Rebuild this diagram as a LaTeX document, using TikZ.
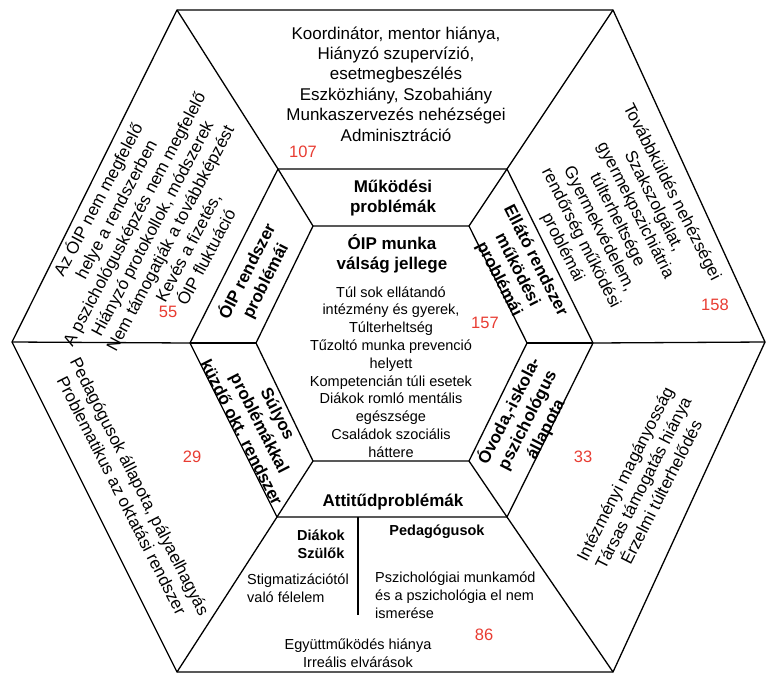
\documentclass[tikz,border=0pt]{standalone}
\usepackage{fontspec}
\setmainfont{Liberation Sans}
\definecolor{numred}{RGB}{232,60,50}
\tikzset{
  big/.style={font=\fontsize{17}{20.4}\selectfont, align=center, inner sep=0pt},
  bigb/.style={font=\fontsize{17}{20.4}\selectfont\bfseries, align=center, inner sep=0pt},
  small/.style={font=\fontsize{14.5}{17.8}\selectfont, align=center, inner sep=0pt},
  smallb/.style={font=\fontsize{14.5}{18}\selectfont\bfseries, align=center, inner sep=0pt},
  num/.style={font=\fontsize{16.5}{20}\selectfont, text=numred, inner sep=0pt},
  hexline/.style={line width=1.3pt, line join=miter, draw=black}
}
\begin{document}
\begin{tikzpicture}[x=1pt,y=-1pt]
\useasboundingbox (0,0) rectangle (767,675);
% vertices
\coordinate (O1) at (177,10);  \coordinate (O2) at (613,10);
\coordinate (O3) at (765,342); \coordinate (O4) at (613,672);
\coordinate (O5) at (177,672); \coordinate (O6) at (12,342);
\coordinate (M1) at (278,169); \coordinate (M2) at (507,169);
\coordinate (M3) at (593,343); \coordinate (M4) at (507,517);
\coordinate (M5) at (277,517); \coordinate (M6) at (190,343);
\coordinate (I1) at (313,226); \coordinate (I2) at (469,226);
\coordinate (I3) at (527,343); \coordinate (I4) at (469,461);
\coordinate (I5) at (313,461); \coordinate (I6) at (256,343);
\coordinate (D1) at (358,517); \coordinate (D2) at (358,615);
% hexagons
\draw[hexline] (O1)--(O2)--(O3)--(O4)--(O5)--(O6)--cycle;
\draw[hexline] (M1)--(M2)--(M3)--(M4)--(M5)--(M6)--cycle;
\draw[hexline] (I1)--(I2)--(I3)--(I4)--(I5)--(I6)--cycle;
\foreach \i in {1,...,6}{
  \draw[hexline] (O\i)--(M\i);
  \draw[hexline] (M\i)--(I\i);
}
\draw[hexline] (D1)--(D2);
% top outer
\node[big] (t1) at (396,84) {Koordinátor, mentor hiánya,\\Hiányzó szupervízió,\\esetmegbeszélés\\Eszközhiány, Szobahiány\\Munkaszervezés nehézségei\\Adminisztráció};
\node[num] (n107) at (303,152) {107};
% top middle
\node[bigb] (t2) at (393,198) {Működési\\problémák};
% center
\node[bigb] (t3) at (392,253.5) {ÓIP munka\\válság jellege};
\node[small] (t4) at (391,372) {Túl sok ellátandó\\intézmény és gyerek,\\Túlterheltség\\Tűzoltó munka prevenció\\helyett\\Kompetencián túli esetek\\Diákok romló mentális\\egészsége\\Családok szociális\\háttere};
\node[num] (n157) at (485,323) {157};
% middle ring
\node[bigb, rotate=63] (t5) at (256,276) {ÓIP rendszer\\problémái};
\node[bigb, rotate=-63] (t6) at (517,270) {Ellátó rendszer\\működési\\problémái};
\node[bigb, rotate=-63] (t7) at (260,423) {Súlyos\\problémákkal\\küzdő okt. rendszer};
\node[bigb, rotate=63] (t8) at (527,420) {Óvoda,-iskola-\\pszichológus\\állapota};
\node[bigb] (t9) at (393,502) {Attitűdproblémák};
% outer ring
\node[big, rotate=62] (t10) at (151,228) {Az ÓIP nem megfelelő\\helye a rendszerben\\A pszichológusképzés nem megfelelő\\Hiányzó protokollok, módszerek\\Nem támogatják a továbbképzést\\Kevés a fizetés,\\ÓIP fluktuáció};
\node[num] (n55) at (168,312) {55};
\node[big, rotate=-63] (t11) at (617,220) {Továbbküldés nehézségei\\Szakszolgálat,\\gyermekpszichiátria\\túlterheltsége\\Gyermekvédelem,\\rendőrség működési\\problémái};
\node[num] (n158) at (715,305) {158};
\node[big, rotate=-63] (t12) at (131,491) {Pedagógusok állapota, pályaelhagyás\\Problematikus az oktatási rendszer};
\node[num] (n29) at (192,457) {29};
\node[big, rotate=63] (t13) at (643,483) {Intézményi magányosság\\Társas támogatás hiánya\\Érzelmi túlterhelődés};
\node[num] (n33) at (583,457) {33};
% bottom outer
\node[smallb] (t14) at (321,544) {Diákok\\Szülők};
\node[smallb] (t15) at (437,532) {Pedagógusok};
\node[small, align=left, anchor=west] (t16) at (247,588) {Stigmatizációtól\\való félelem};
\node[small, align=left, anchor=west] (t17) at (375,595) {Pszichológiai munkamód\\és a pszichológia el nem\\ismerése};
\node[small] (t18) at (358,653) {Együttműködés hiánya\\Irreális elvárások};
\node[num] (n86) at (484,635) {86};
\end{tikzpicture}
\end{document}
